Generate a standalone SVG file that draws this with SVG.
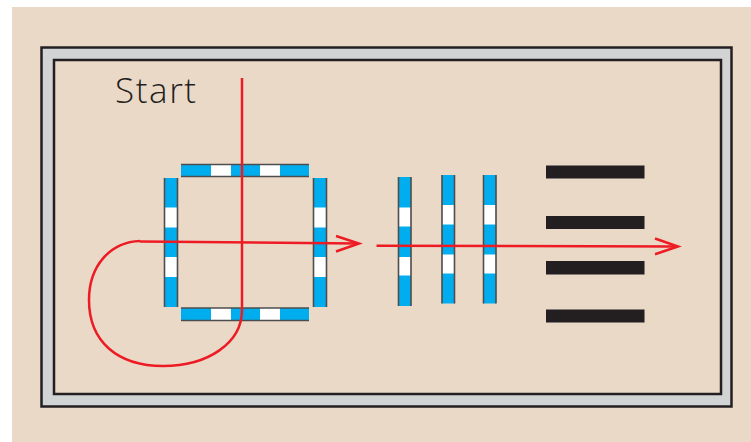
<svg xmlns="http://www.w3.org/2000/svg" width="751" height="442" viewBox="0 0 751 442">
<style>
.blue{fill:#00aeef}
.wht{fill:#ffffff}
.edge{stroke:#4d4d4d;stroke-width:1.6;fill:none}
.blk{fill:#231f20}
.red{stroke:#ed1c24;stroke-width:2.5;fill:none;stroke-linecap:butt}
.lbl{font-family:"Open Sans","DejaVu Sans",sans-serif;font-size:35px;font-weight:300;letter-spacing:1.6px;fill:#231f20}
</style>
<rect x="0" y="0" width="751" height="442" fill="#ffffff"/>
<rect x="12" y="7" width="739" height="435" fill="#ebd9c8"/>
<g id="frame">
<rect x="41.5" y="47.5" width="690" height="359" fill="#d1d3d4" stroke="#231f20" stroke-width="2.5"/>
<rect x="54" y="60" width="667" height="334" fill="#ebd9c8" stroke="#231f20" stroke-width="2.5"/>
</g>
<text id="start" class="lbl" x="115" y="103">Start</text>
<g id="square-top">
<rect class="blue" x="181" y="164.5" width="128" height="12"/>
<rect class="wht" x="211" y="164.5" width="20" height="12"/>
<rect class="wht" x="260" y="164.5" width="20" height="12"/>
<path class="edge" d="M181 164.5H309M181 176.5H309"/>
</g>
<g id="square-bottom">
<rect class="blue" x="181" y="308" width="128" height="12.5"/>
<rect class="wht" x="211" y="308" width="20" height="12.5"/>
<rect class="wht" x="260" y="308" width="20" height="12.5"/>
<path class="edge" d="M181 308H309M181 320.5H309"/>
</g>
<g id="square-left">
<rect class="blue" x="164.5" y="178" width="13" height="129"/>
<rect class="wht" x="164.5" y="207.5" width="13" height="20"/>
<rect class="wht" x="164.5" y="257" width="13" height="20"/>
<path class="edge" d="M164.5 178V307M177.5 178V307"/>
</g>
<g id="square-right">
<rect class="blue" x="313.5" y="178" width="13" height="129"/>
<rect class="wht" x="313.5" y="207.5" width="13" height="20"/>
<rect class="wht" x="313.5" y="257" width="13" height="20"/>
<path class="edge" d="M313.5 178V307M326.5 178V307"/>
</g>
<g id="bar-1">
<rect class="blue" x="398.5" y="177" width="12.5" height="129"/>
<rect class="wht" x="398.5" y="207.5" width="12.5" height="19"/>
<rect class="wht" x="398.5" y="257" width="12.5" height="18.5"/>
<path class="edge" d="M398.5 177V306M411 177V306"/>
</g>
<g id="bar-2">
<rect class="blue" x="442" y="175" width="12.5" height="128.5"/>
<rect class="wht" x="442" y="205" width="12.5" height="19.5"/>
<rect class="wht" x="442" y="254.5" width="12.5" height="19"/>
<path class="edge" d="M442 175V303.5M454.5 175V303.5"/>
</g>
<g id="bar-3">
<rect class="blue" x="483.5" y="175" width="12.5" height="128.5"/>
<rect class="wht" x="483.5" y="205" width="12.5" height="19.5"/>
<rect class="wht" x="483.5" y="254.5" width="12.5" height="19"/>
<path class="edge" d="M483.5 175V303.5M496 175V303.5"/>
</g>
<g id="black-bars">
<rect class="blk" x="546" y="165.5" width="98.5" height="13"/>
<rect class="blk" x="546" y="216" width="98.5" height="13"/>
<rect class="blk" x="546" y="261" width="98.5" height="13.5"/>
<rect class="blk" x="546" y="309.5" width="98.5" height="13"/>
</g>
<g id="connectors">
<path class="red" d="M242 78V310C242 343 208 366 163 366C118 366 89 342 89 300C89 266 110 242 140 241"/>
<path class="red" d="M140 241.5L358 243.5"/>
<path class="red" d="M336 236L359 243.5L336 251.5"/>
<path class="red" d="M376.5 245.8L677 246.5"/>
<path class="red" d="M655 238.5L678 246.5L655 254.3"/>
</g>
</svg>
